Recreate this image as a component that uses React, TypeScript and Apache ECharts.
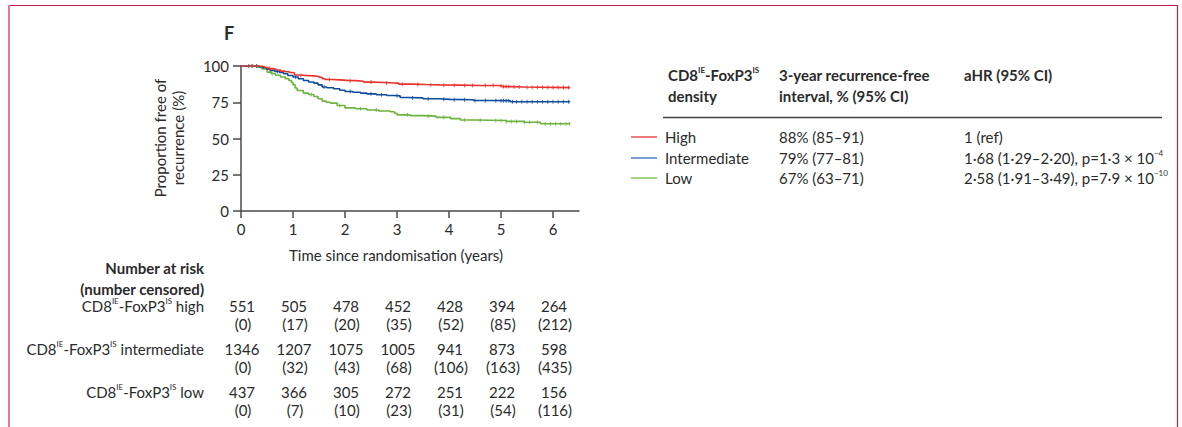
import React, { useEffect, useRef } from "react";
import * as echarts from "echarts";

// ---------- data ----------
const xTicks = [0, 1, 2, 3, 4, 5, 6];
const yTicks = [0, 25, 50, 75, 100];
const groupNames = ["High", "Intermediate", "Low"];
const lineColors = ["#e8322b", "#0f4c9c", "#6cb33f"];
const legendColors = ["#e8343a", "#2e6fb0", "#72bf4c"];

const highT = [0, 0.38, 0.45, 0.52, 0.6, 0.68, 0.76, 0.85, 0.93, 0.98, 1.03, 1.1, 1.25, 1.4, 1.5, 1.56, 1.62, 1.75, 1.9, 2.05, 2.2, 2.36, 2.55, 2.75, 2.94, 3.03, 3.3, 3.55, 3.83, 4.2, 4.6, 4.92, 5.02, 5.2, 5.44, 6.33];
const highS = [100, 99.6, 99.0, 98.2, 97.8, 97.2, 96.5, 96.0, 95.5, 95.2, 93.8, 93.5, 93.2, 92.8, 92.2, 91.2, 90.7, 90.4, 90.1, 89.9, 89.5, 88.9, 88.6, 88.3, 88.2, 87.5, 87.2, 87.0, 86.8, 86.6, 86.5, 86.4, 85.8, 85.5, 85.1, 85.1];

const interT = [0, 0.35, 0.42, 0.5, 0.56, 0.65, 0.74, 0.82, 0.9, 1.0, 1.1, 1.2, 1.3, 1.4, 1.48, 1.56, 1.65, 1.78, 1.9, 2.0, 2.15, 2.3, 2.42, 2.6, 2.8, 2.94, 3.06, 3.2, 3.5, 3.8, 4.03, 4.47, 4.8, 5.12, 5.18, 6.33];
const interS = [100, 99.5, 98.8, 97.8, 97.0, 96.2, 95.5, 94.7, 93.5, 92.4, 91.2, 90.0, 89.0, 88.2, 87.0, 85.5, 85.0, 84.3, 83.3, 82.4, 81.9, 81.3, 80.8, 80.2, 79.7, 79.4, 78.3, 78.0, 77.4, 77.0, 76.7, 76.2, 76.1, 76.0, 75.3, 75.3];

const lowT = [0, 0.32, 0.4, 0.5, 0.58, 0.66, 0.76, 0.85, 0.92, 0.97, 1.0, 1.04, 1.08, 1.2, 1.3, 1.4, 1.48, 1.56, 1.64, 1.72, 1.85, 2.0, 2.2, 2.42, 2.65, 2.87, 2.95, 3.0, 3.25, 3.5, 3.75, 4.03, 4.22, 4.5, 4.8, 5.1, 5.44, 5.76, 6.33];
const lowS = [100, 99.2, 98.0, 95.8, 94.8, 93.6, 92.4, 91.3, 90.0, 88.6, 87.0, 84.8, 83.1, 81.3, 80.3, 79.0, 77.4, 75.8, 75.0, 74.4, 72.8, 71.1, 70.5, 69.7, 69.0, 68.4, 67.4, 66.3, 65.8, 65.4, 64.6, 63.7, 62.8, 62.6, 62.4, 61.8, 61.2, 60.2, 60.2];

const highCens = [0.22, 0.55, 1.15, 1.7, 2.1, 2.5, 2.8, 3.1, 3.4, 3.65, 3.9, 4.1, 4.3, 4.45, 4.7, 4.85, 5.0, 5.05, 5.1, 5.15, 5.25, 5.35, 5.5, 5.6, 5.7, 5.8, 5.9, 6.0, 6.1, 6.2, 6.3];
const interCens = [0.15, 0.3, 0.7, 1.05, 1.6, 2.1, 2.5, 2.7, 3.0, 3.3, 3.6, 3.9, 4.1, 4.3, 4.5, 4.7, 4.9, 5.0, 5.05, 5.1, 5.15, 5.22, 5.3, 5.4, 5.5, 5.6, 5.7, 5.8, 5.9, 6.0, 6.1, 6.2, 6.3];
const lowCens = [0.2, 0.6, 1.35, 1.9, 2.3, 2.6, 3.2, 3.6, 3.9, 4.3, 4.6, 4.9, 5.0, 5.1, 5.2, 5.3, 5.45, 5.55, 5.7, 5.85, 5.95, 6.05, 6.15, 6.25, 6.32];

const rfs3 = ["88% (85–91)", "79% (77–81)", "67% (63–71)"];
const ahrMain = ["1 (ref)", "1·68 (1·29–2·20), p=1·3 × 10", "2·58 (1·91–3·49), p=7·9 × 10"];
const ahrExp = ["", "−4", "−10"];

const riskLabels = ["high", "intermediate", "low"];
const riskN = [
  [551, 505, 478, 452, 428, 394, 264],
  [1346, 1207, 1075, 1005, 941, 873, 598],
  [437, 366, 305, 272, 251, 222, 156],
];
const riskCens = [
  [0, 17, 20, 35, 52, 85, 212],
  [0, 32, 43, 68, 106, 163, 435],
  [0, 7, 10, 23, 31, 54, 116],
];

// ---------- helpers ----------
const FONT = "Lato, 'Open Sans', sans-serif";
const TXT = "#2b2b2b";

function pairs(t: number[], s: number[]) {
  return t.map((v, i) => [v, s[i]]);
}
function stepAt(t: number[], s: number[], c: number) {
  let v = s[0];
  for (let i = 0; i < t.length; i++) if (t[i] <= c) v = s[i];
  return v;
}

const supRich = (size: number, bold: boolean) => ({
  m: { fontSize: size, fontWeight: bold ? "bold" : "normal", fontFamily: FONT, fill: TXT, lineHeight: 18 },
  s: { fontSize: Math.round(size * 0.55), fontWeight: bold ? "bold" : "normal", fontFamily: FONT, fill: TXT, lineHeight: 8, verticalAlign: "top" },
});

function text(x: number, y: number, t: string, opts: any = {}) {
  return {
    type: "text",
    x,
    y,
    silent: true,
    style: {
      text: t,
      fill: TXT,
      fontFamily: FONT,
      fontSize: opts.size || 15,
      fontWeight: opts.bold ? "bold" : "normal",
      align: opts.align || "left",
      verticalAlign: "middle",
      ...(opts.rich ? { rich: opts.rich } : {}),
    },
    ...(opts.rotation !== undefined ? { rotation: opts.rotation } : {}),
  };
}

export default function App() {
  const ref = useRef<HTMLDivElement>(null);
  useEffect(() => {
    if (!ref.current) return;
    const chart = echarts.init(ref.current, undefined, { renderer: "svg" });
    const curves = [pairs(highT, highS), pairs(interT, interS), pairs(lowT, lowS)];
    const cens = [
      highCens.map((c) => [c, stepAt(highT, highS, c)]),
      interCens.map((c) => [c, stepAt(interT, interS, c)]),
      lowCens.map((c) => [c, stepAt(lowT, lowS, c)]),
    ];
    const axisColor = "#4a4a4a";
    const series: any[] = [];
    curves.forEach((d, i) => {
      series.push({
        type: "line",
        name: groupNames[i],
        data: d,
        step: "end",
        showSymbol: false,
        symbol: "none",
        lineStyle: { color: lineColors[i], width: 1.6 },
        z: 3 - i,
      });
      series.push({
        type: "scatter",
        data: cens[i],
        symbol: "rect",
        symbolSize: [1, 4],
        itemStyle: { color: lineColors[i] },
        silent: true,
      });
    });

    chart.setOption({
      animation: false,
      grid: { left: 241, top: 66, width: 338, height: 145, containLabel: false },
      xAxis: {
        type: "value",
        min: 0,
        max: 6.5,
        interval: 1,
        axisLine: { show: true, lineStyle: { color: axisColor, width: 1.5 } },
        axisTick: { show: true, length: 7, lineStyle: { color: axisColor, width: 1.5 }, customValues: xTicks },
        axisLabel: { margin: 10, fontSize: 15, color: TXT, fontFamily: FONT, customValues: xTicks },
        splitLine: { show: false },
      },
      yAxis: {
        type: "value",
        min: 0,
        max: 100,
        interval: 25,
        axisLine: { show: true, lineStyle: { color: axisColor, width: 1.5 } },
        axisTick: { show: true, length: 8, lineStyle: { color: axisColor, width: 1.5 }, customValues: yTicks },
        axisLabel: { margin: 12, fontSize: 15, color: TXT, fontFamily: FONT, customValues: yTicks },
        splitLine: { show: false },
      },
      series,
    });

    const xs = xTicks.map((t) => chart.convertToPixel({ xAxisIndex: 0 }, t) as number);
    const g: any[] = [];
    // frame
    g.push({ type: "line", silent: true, shape: { x1: 8, y1: 5.5, x2: 1177, y2: 5.5 }, style: { stroke: "#c41a45", lineWidth: 1.2 } });
    g.push({ type: "line", silent: true, shape: { x1: 9, y1: 5, x2: 9, y2: 427 }, style: { stroke: "#e07a95", lineWidth: 2 } });
    g.push({ type: "line", silent: true, shape: { x1: 1177.5, y1: 5, x2: 1177.5, y2: 427 }, style: { stroke: "#c41a45", lineWidth: 1.2 } });
    // panel letter
    g.push(text(224, 33, "F", { size: 18, bold: true }));
    // axis titles
    g.push(text(160, 138, "Proportion free of", { size: 15, align: "center", rotation: Math.PI / 2 }));
    g.push(text(178, 138, "recurrence (%)", { size: 15, align: "center", rotation: Math.PI / 2 }));
    g.push(text(396, 255, "Time since randomisation (years)", { size: 15, align: "center" }));

    // legend table
    const r1 = supRich(15, true);
    g.push(text(668, 75, "{m|CD8}{s|IE}{m|-FoxP3}{s|IS}", { rich: r1, bold: true }));
    g.push(text(668, 96, "density", { bold: true }));
    g.push(text(779, 75, "3-year recurrence-free", { bold: true }));
    g.push(text(779, 96, "interval, % (95% CI)", { bold: true }));
    g.push(text(964, 75, "aHR (95% CI)", { bold: true }));
    g.push({ type: "line", silent: true, shape: { x1: 663, y1: 117.5, x2: 1162, y2: 117.5 }, style: { stroke: "#444", lineWidth: 1.5 } });
    const rowY = [137, 158, 178];
    const r2 = supRich(15, false);
    groupNames.forEach((nm, i) => {
      g.push({ type: "line", silent: true, shape: { x1: 631, y1: rowY[i], x2: 657, y2: rowY[i] }, style: { stroke: legendColors[i], lineWidth: 1.3 } });
      g.push(text(665, rowY[i], nm));
      g.push(text(779, rowY[i], rfs3[i]));
      if (ahrExp[i]) {
        g.push(text(964, rowY[i], `{m|${ahrMain[i]}}{s|${ahrExp[i]}}`, { rich: r2 }));
      } else {
        g.push(text(964, rowY[i], ahrMain[i]));
      }
    });

    // risk table
    g.push(text(204, 268, "Number at risk", { bold: true, align: "right" }));
    g.push(text(204, 289, "(number censored)", { bold: true, align: "right" }));
    const nY = [306, 349, 392];
    const cY = [324, 367, 410];
    riskLabels.forEach((lb, i) => {
      g.push(text(204, nY[i], `{m|CD8}{s|IE}{m|-FoxP3}{s|IS}{m| ${lb}}`, { rich: r2, align: "right" }));
      riskN[i].forEach((v, j) => {
        g.push(text(xs[j] + 1, nY[i], String(v), { align: "center" }));
        g.push(text(xs[j] + 2, cY[i], `(${riskCens[i][j]})`, { align: "center" }));
      });
    });

    chart.setOption({ graphic: g });
    return () => chart.dispose();
  }, []);
  return <div ref={ref} style={{ position: "absolute", left: 0, top: 0, width: 1182, height: 427 }} />;
}
